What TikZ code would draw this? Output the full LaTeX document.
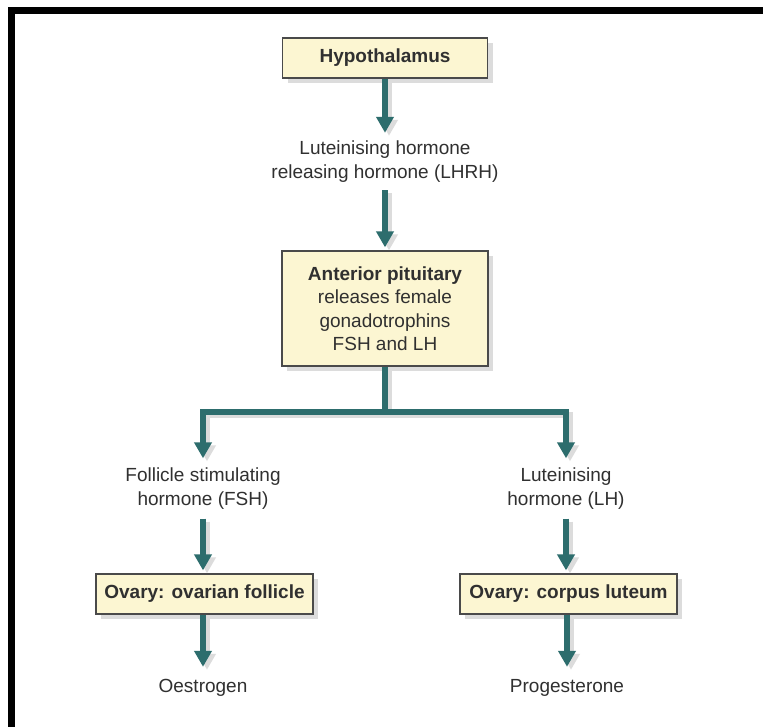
\documentclass[tikz,border=0pt]{standalone}
\usepackage{fontspec}
\setmainfont{Liberation Sans}
\usetikzlibrary{arrows.meta,shadows,calc}
\definecolor{boxfill}{HTML}{FCF6D2}
\definecolor{boxline}{HTML}{4A4A4A}
\definecolor{teal}{HTML}{2D6D6D}
\definecolor{shade}{HTML}{DCDCDC}
\definecolor{txt}{HTML}{303030}
\tikzset{
  hbox/.style={draw=boxline, line width=1.3pt, fill=boxfill, inner sep=0pt,
    align=center, text=txt,
    font=\fontsize{19}{23.5}\selectfont,
    drop shadow={shadow xshift=5pt, shadow yshift=-5pt, fill=shade, opacity=1}},
  label/.style={inner sep=0pt, align=center, text=txt,
    font=\fontsize{19}{23.5}\selectfont},
  arr/.style={draw=teal, line width=5.5pt,
    -{Triangle[width=17pt,length=16pt]}},
  arrshadow/.style={draw=shade, line width=5.5pt,
    -{Triangle[width=17pt,length=16pt]},
    transform canvas={xshift=4pt,yshift=-3pt}},
}
\begin{document}
\begin{tikzpicture}[x=1pt,y=-1pt]
\useasboundingbox (0,0) rectangle (763,727);
\fill[white] (0,0) rectangle (763,727);
% frame
\draw[line width=7pt] (11.5,727) -- (11.5,10.5) -- (763,10.5);

% nodes
\node[hbox, minimum width=205pt, minimum height=40pt] (hyp) at (385,58) {\textbf{Hypothalamus}};
\node[label, minimum height=57pt] (lhrh) at (385,161.5) {Luteinising hormone\\releasing hormone (LHRH)};
\node[hbox, minimum width=206pt, minimum height=115pt] (ant) at (385,308.5)
  {\textbf{Anterior pituitary}\\releases female\\gonadotrophins\\FSH and LH};
\coordinate (branch) at (385,412);
\node[label, minimum height=60pt] (fsh) at (203,488.5) {Follicle stimulating\\hormone (FSH)};
\node[label, minimum height=60pt] (lh) at (566,488.5) {Luteinising\\hormone (LH)};
\node[hbox, minimum width=217pt, minimum height=40pt] (ovf) at (204.5,594) {\textbf{Ovary: ovarian follicle}};
\node[hbox, minimum width=217pt, minimum height=40pt] (ovc) at (568.5,594) {\textbf{Ovary: corpus luteum}};
\node[label, minimum height=42pt] (oes) at (203,688) {Oestrogen};
\node[label, minimum height=42pt] (pro) at (567,688) {Progesterone};

% shadows of connectors
\draw[arrshadow] (hyp.south) -- (lhrh.north);
\draw[arrshadow] (lhrh.south) -- ($(ant.north)+(0,-3)$);
\draw[arrshadow] (ant.south) -- (branch) -| (fsh.north);
\draw[arrshadow] (branch) -| (lh.north);
\draw[arrshadow] (fsh.south) -- ($(ovf.north)+(-1.5,-3)$);
\draw[arrshadow] (lh.south) -- ($(ovc.north)+(-2.5,-3)$);
\draw[arrshadow] ($(ovf.south)+(-1.5,0)$) -- (oes.north);
\draw[arrshadow] ($(ovc.south)+(-1.5,0)$) -- (pro.north);

% connectors
\draw[arr] (hyp.south) -- (lhrh.north);
\draw[arr] (lhrh.south) -- ($(ant.north)+(0,-3)$);
\draw[arr] (ant.south) -- (branch) -| (fsh.north);
\draw[arr] (branch) -| (lh.north);
\draw[arr] (fsh.south) -- ($(ovf.north)+(-1.5,-3)$);
\draw[arr] (lh.south) -- ($(ovc.north)+(-2.5,-3)$);
\draw[arr] ($(ovf.south)+(-1.5,0)$) -- (oes.north);
\draw[arr] ($(ovc.south)+(-1.5,0)$) -- (pro.north);
\end{tikzpicture}
\end{document}
